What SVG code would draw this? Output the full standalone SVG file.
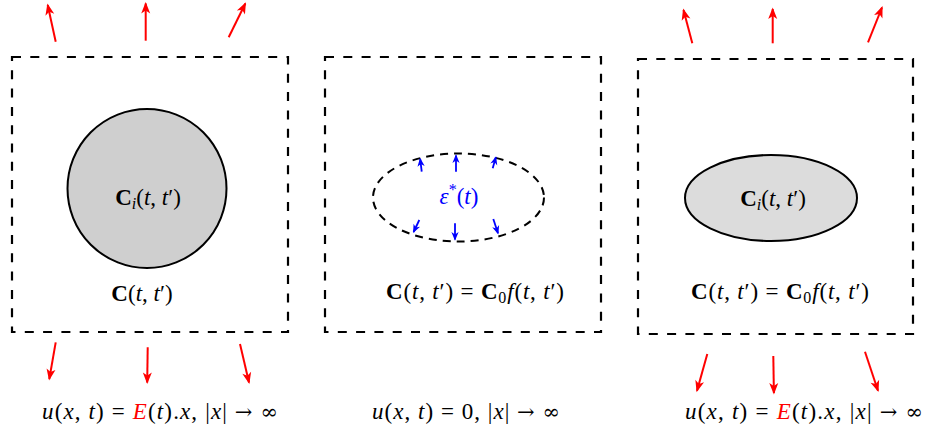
<svg xmlns="http://www.w3.org/2000/svg" width="928" height="428" viewBox="0 0 928 428">
<style>
.box{fill:none;stroke:#000;stroke-width:2.2;stroke-dasharray:9 9.3}
.m{font-family:"Liberation Serif","DejaVu Serif",serif;font-size:23px;fill:#000}
.i{font-style:italic}
.b{font-weight:bold}
.s{font-family:"DejaVu Serif",serif;font-size:21px}
.ra{stroke:#ff0000;stroke-width:2;fill:none;marker-end:url(#ar)}
.ba{stroke:#0000ff;stroke-width:1.8;fill:none;marker-end:url(#ab)}
</style>
<defs>
<marker id="ar" viewBox="-12 -6 14 12" refX="0" refY="0" markerWidth="14" markerHeight="12" markerUnits="userSpaceOnUse" orient="auto"><path d="M-10,-4.5 L1.5,0 L-10,4.5 L-7,0 z" fill="#ff0000"/></marker>
<marker id="ab" viewBox="-9 -5 11 10" refX="0" refY="0" markerWidth="11" markerHeight="10" markerUnits="userSpaceOnUse" orient="auto"><path d="M-7.5,-3.6 L1.2,0 L-7.5,3.6 L-5,0 z" fill="#0000ff"/></marker>
</defs>

<g id="panel1">
<rect class="box" x="12" y="57" width="276" height="275"/>
<circle cx="147" cy="188.5" r="79.5" fill="#cfcfcf" stroke="#000" stroke-width="2"/>
<text class="m" x="148" y="205" text-anchor="middle"><tspan class="b">C</tspan><tspan class="i" font-size="16" dy="4">i</tspan><tspan dy="-4">(</tspan><tspan class="i">t</tspan>, <tspan class="i">t</tspan>′)</text>
<text class="m" x="142" y="301" text-anchor="middle"><tspan class="b">C</tspan>(<tspan class="i">t</tspan>, <tspan class="i">t</tspan>′)</text>
<text class="m" x="42" y="419" textLength="236" lengthAdjust="spacing"><tspan class="i">u</tspan>(<tspan class="i">x</tspan>, <tspan class="i">t</tspan>) = <tspan class="i" fill="#ff0000">E</tspan>(<tspan class="i">t</tspan>).<tspan class="i">x</tspan>, |<tspan class="i">x</tspan>| <tspan class="s">→</tspan> <tspan class="s">∞</tspan></text>
</g>

<g id="panel2">
<rect class="box" x="325" y="57" width="276" height="275"/>
<ellipse cx="458.5" cy="197.5" rx="85.5" ry="44" fill="none" stroke="#000" stroke-width="2" stroke-dasharray="8 6"/>
<text class="m" x="459" y="204" text-anchor="middle" style="fill:#0000ff"><tspan class="i">ε</tspan><tspan font-size="16" dy="-9">*</tspan><tspan dy="9">(</tspan><tspan class="i">t</tspan>)</text>
<text class="m" x="386" y="299" textLength="178" lengthAdjust="spacing"><tspan class="b">C</tspan>(<tspan class="i">t</tspan>, <tspan class="i">t</tspan>′) = <tspan class="b">C</tspan><tspan font-size="16" dy="4">0</tspan><tspan class="i" dy="-4">f</tspan>(<tspan class="i">t</tspan>, <tspan class="i">t</tspan>′)</text>
<text class="m" x="372" y="419" textLength="188" lengthAdjust="spacing"><tspan class="i">u</tspan>(<tspan class="i">x</tspan>, <tspan class="i">t</tspan>) = 0, |<tspan class="i">x</tspan>| <tspan class="s">→</tspan> <tspan class="s">∞</tspan></text>
</g>

<g id="panel3">
<rect class="box" x="638" y="59" width="275" height="275"/>
<ellipse cx="771" cy="198" rx="86" ry="43" fill="#dcdcdc" stroke="#000" stroke-width="2"/>
<text class="m" x="773" y="206" text-anchor="middle"><tspan class="b">C</tspan><tspan class="i" font-size="16" dy="4">i</tspan><tspan dy="-4">(</tspan><tspan class="i">t</tspan>, <tspan class="i">t</tspan>′)</text>
<text class="m" x="691" y="299" textLength="178" lengthAdjust="spacing"><tspan class="b">C</tspan>(<tspan class="i">t</tspan>, <tspan class="i">t</tspan>′) = <tspan class="b">C</tspan><tspan font-size="16" dy="4">0</tspan><tspan class="i" dy="-4">f</tspan>(<tspan class="i">t</tspan>, <tspan class="i">t</tspan>′)</text>
<text class="m" x="685" y="419" textLength="238" lengthAdjust="spacing"><tspan class="i">u</tspan>(<tspan class="i">x</tspan>, <tspan class="i">t</tspan>) = <tspan class="i" fill="#ff0000">E</tspan>(<tspan class="i">t</tspan>).<tspan class="i">x</tspan>, |<tspan class="i">x</tspan>| <tspan class="s">→</tspan> <tspan class="s">∞</tspan></text>
</g>

<g id="connectors">
<line class="ra" x1="55.7" y1="41.7" x2="47.7" y2="5"/>
<line class="ra" x1="145.7" y1="40.7" x2="145.7" y2="3.5"/>
<line class="ra" x1="228.7" y1="37.3" x2="245.3" y2="3.5"/>
<line class="ra" x1="55.7" y1="342.3" x2="49.3" y2="379"/>
<line class="ra" x1="147.7" y1="347.3" x2="147.2" y2="382.5"/>
<line class="ra" x1="240" y1="344" x2="249" y2="382.5"/>
<line class="ra" x1="692.3" y1="43.3" x2="683.5" y2="10"/>
<line class="ra" x1="772.7" y1="43.3" x2="772.7" y2="9"/>
<line class="ra" x1="868" y1="42.3" x2="882" y2="7.5"/>
<line class="ra" x1="707.3" y1="354" x2="697" y2="390.7"/>
<line class="ra" x1="773.3" y1="356" x2="773.9" y2="393"/>
<line class="ra" x1="865" y1="351.7" x2="878" y2="390.7"/>
<line class="ba" x1="421.7" y1="171.7" x2="420.2" y2="159"/>
<line class="ba" x1="456" y1="171.7" x2="456" y2="155.5"/>
<line class="ba" x1="492.7" y1="168.3" x2="495.8" y2="157.3"/>
<line class="ba" x1="419.3" y1="220" x2="413.6" y2="232"/>
<line class="ba" x1="455" y1="223.3" x2="455" y2="239.5"/>
<line class="ba" x1="493.3" y1="219" x2="498" y2="233.3"/>
</g>
</svg>
